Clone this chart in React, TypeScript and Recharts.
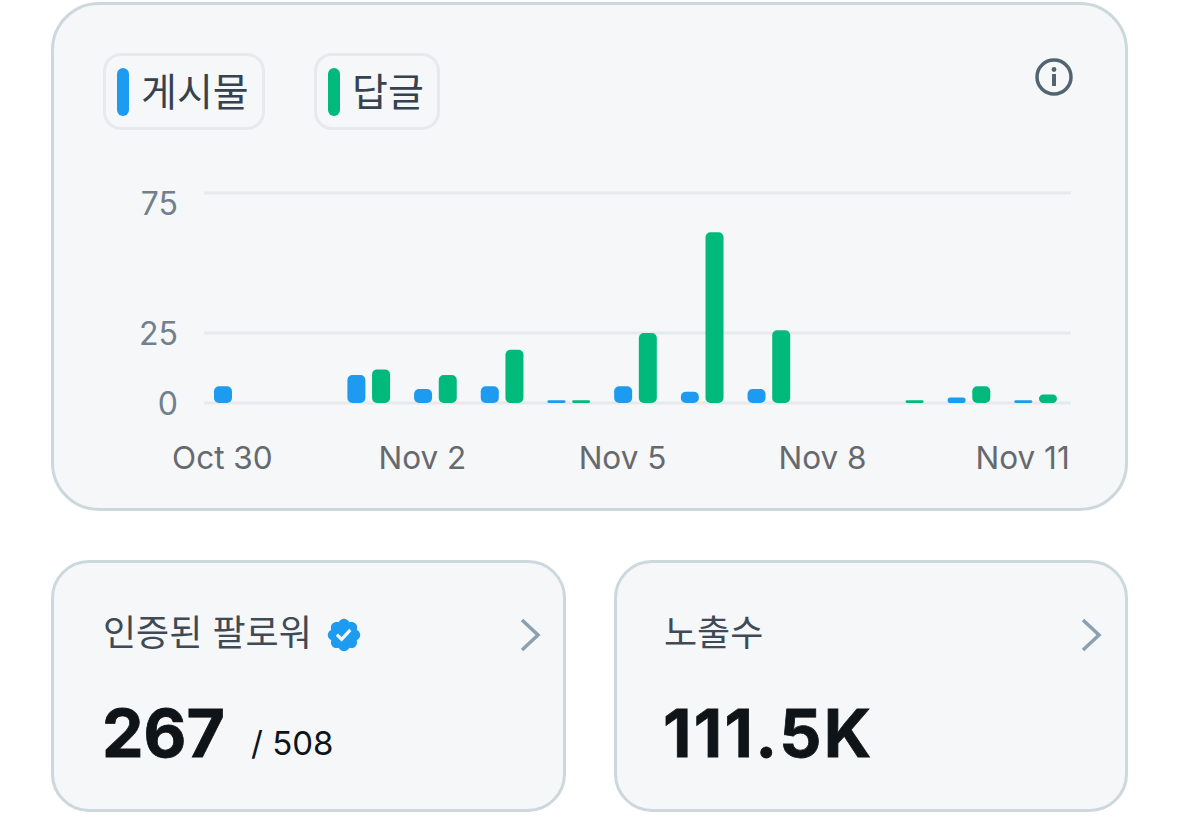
import { BarChart, Bar, XAxis, YAxis, CartesianGrid } from 'recharts'

const DAYS = ['Oct 30', 'Oct 31', 'Nov 1', 'Nov 2', 'Nov 3', 'Nov 4', 'Nov 5', 'Nov 6', 'Nov 7', 'Nov 8', 'Nov 9', 'Nov 10', 'Nov 11']
const POSTS = [6, 0, 10, 5, 6, 1, 6, 4, 5, 0, 0, 2, 1]
const REPLIES = [0, 0, 12, 10, 19, 1, 25, 61, 26, 0, 1, 6, 3]
const X_TICKS = ['Oct 30', 'Nov 2', 'Nov 5', 'Nov 8', 'Nov 11']
const Y_TICKS = [0, 25, 75]

const POSTS_LABEL = '게시물'
const REPLIES_LABEL = '답글'

const BLUE = '#1d9bf0'
const GREEN = '#00ba7c'
const FONT = "Inter, 'Noto Sans CJK KR', sans-serif"
const BORDER = '#ccd8dc'
const CARD_BG = '#f5f7f9'

const chartData = DAYS.map((day, i) => ({ day, posts: POSTS[i], replies: REPLIES[i] }))

function XTick({ x, y, payload }: any) {
  return (
    <text x={x - 13} y={y + 58} textAnchor="middle" fontSize={31.5} fill="#66696d" fontFamily={FONT}>
      {payload.value}
    </text>
  )
}

function YTick({ x, y, payload }: any) {
  // the top label sits below its gridline in the original
  const labelY = Math.max(y, 203)
  return (
    <text x={x - 4} y={labelY + 12} textAnchor="end" fontSize={32} fill="#71808c" fontFamily={FONT}>
      {payload.value}
    </text>
  )
}

function Chip({ left, width, color, label }: { left: number; width: number; color: string; label: string }) {
  return (
    <div
      style={{
        position: 'absolute',
        left,
        top: 53,
        width,
        height: 77,
        boxSizing: 'border-box',
        border: '3px solid #e7eaec',
        borderRadius: 18,
      }}
    >
      <div style={{ position: 'absolute', left: 11, top: 12, width: 12, height: 48, borderRadius: 6, background: color }} />
      <span style={{ position: 'absolute', left: 35, top: 9, fontSize: 39, lineHeight: '54px', color: '#36424f', whiteSpace: 'nowrap' }}>
        {label}
      </span>
    </div>
  )
}

function Chevron({ left }: { left: number }) {
  return (
    <svg style={{ position: 'absolute', left, top: 616 }} width={26} height={38} viewBox="0 0 26 38">
      <path d="M4 4 L20 19 L4 34" fill="none" stroke="#8ba0b0" strokeWidth={3.5} />
    </svg>
  )
}

function Card({ left, top, width, height, radius }: { left: number; top: number; width: number; height: number; radius: number }) {
  return (
    <div
      style={{
        position: 'absolute',
        left,
        top,
        width,
        height,
        boxSizing: 'border-box',
        background: CARD_BG,
        border: `3px solid ${BORDER}`,
        borderRadius: radius,
      }}
    />
  )
}

function Text({ left, top, size, color, weight, spacing, stroke, children }: any) {
  return (
    <span
      style={{
        position: 'absolute',
        left,
        top,
        fontSize: size,
        lineHeight: 1,
        color,
        fontWeight: weight,
        letterSpacing: spacing,
        WebkitTextStroke: stroke,
        whiteSpace: 'nowrap',
      }}
    >
      {children}
    </span>
  )
}

export default function App() {
  return (
    <div style={{ position: 'fixed', left: 0, top: 0, width: 1179, height: 828, background: '#ffffff', fontFamily: FONT, overflow: 'hidden' }}>
      <Card left={51} top={2} width={1077} height={509} radius={48} />
      <Card left={51} top={560} width={515} height={252} radius={38} />
      <Card left={614} top={560} width={514} height={252} radius={38} />

      <Chip left={103} width={162} color={BLUE} label={POSTS_LABEL} />
      <Chip left={314} width={126} color={GREEN} label={REPLIES_LABEL} />

      <svg style={{ position: 'absolute', left: 1034, top: 57 }} width={40} height={40} viewBox="0 0 40 40">
        <circle cx={20} cy={20} r={17} fill="none" stroke="#536471" strokeWidth={3.5} />
        <circle cx={20} cy={12.5} r={2.4} fill="#536471" />
        <rect x={18} y={17} width={4} height={12} fill="#536471" />
      </svg>

      <div style={{ position: 'absolute', left: 0, top: 0 }}>
        <BarChart
          width={1179}
          height={500}
          data={chartData}
          barSize={18}
          barGap={6.67}
          margin={{ top: 193, right: 108, bottom: 37, left: 104 }}
        >
          <CartesianGrid vertical={false} stroke="#e7eaec" strokeWidth={3} horizontalValues={Y_TICKS} />
          <XAxis
            dataKey="day"
            ticks={X_TICKS}
            interval={0}
            height={60}
            axisLine={false}
            tickLine={false}
            tick={<XTick />}
            padding={{ left: -2, right: 2 }}
          />
          <YAxis
            domain={[0, 75]}
            ticks={Y_TICKS}
            width={100}
            axisLine={false}
            tickLine={false}
            tickMargin={16}
            tick={<YTick />}
          />
          <Bar dataKey="posts" name={POSTS_LABEL} fill={BLUE} radius={5} isAnimationActive={false} />
          <Bar dataKey="replies" name={REPLIES_LABEL} fill={GREEN} radius={5} isAnimationActive={false} />
        </BarChart>
      </div>

      <Text left={103} top={615} size={36} color="#3e4a56">인증된 팔로워</Text>
      <svg style={{ position: 'absolute', left: 325, top: 616 }} width={38} height={38} viewBox="0 0 24 24">
        <path
          fill={BLUE}
          d="M22.25 12c0-1.43-.88-2.67-2.19-3.34.46-1.39.2-2.9-.81-3.91s-2.52-1.27-3.91-.81c-.66-1.31-1.91-2.19-3.34-2.19s-2.67.88-3.33 2.19c-1.4-.46-2.91-.2-3.92.81s-1.26 2.52-.8 3.91c-1.31.67-2.2 1.91-2.2 3.34s.89 2.67 2.2 3.34c-.46 1.39-.21 2.9.8 3.91s2.52 1.26 3.91.81c.67 1.31 1.91 2.19 3.34 2.19s2.68-.88 3.34-2.19c1.39.45 2.9.2 3.91-.81s1.27-2.52.81-3.91c1.31-.67 2.19-1.91 2.19-3.34zm-11.71 4.2L6.8 12.46l1.41-1.42 2.26 2.26 4.8-5.23 1.47 1.36-6.2 6.77z"
        />
      </svg>
      <Chevron left={518} />

      <Text left={102} top={700} size={66} color="#0f1419" weight={700} stroke="0.8px #0f1419">267</Text>
      <Text left={251} top={727} size={33} color="#0f1419">/ 508</Text>

      <Text left={664} top={615} size={36} color="#3e4a56">노출수</Text>
      <Chevron left={1079} />
      <Text left={663} top={700} size={66} color="#0f1419" weight={700} spacing={2.3} stroke="0.8px #0f1419">111.5K</Text>
    </div>
  )
}
